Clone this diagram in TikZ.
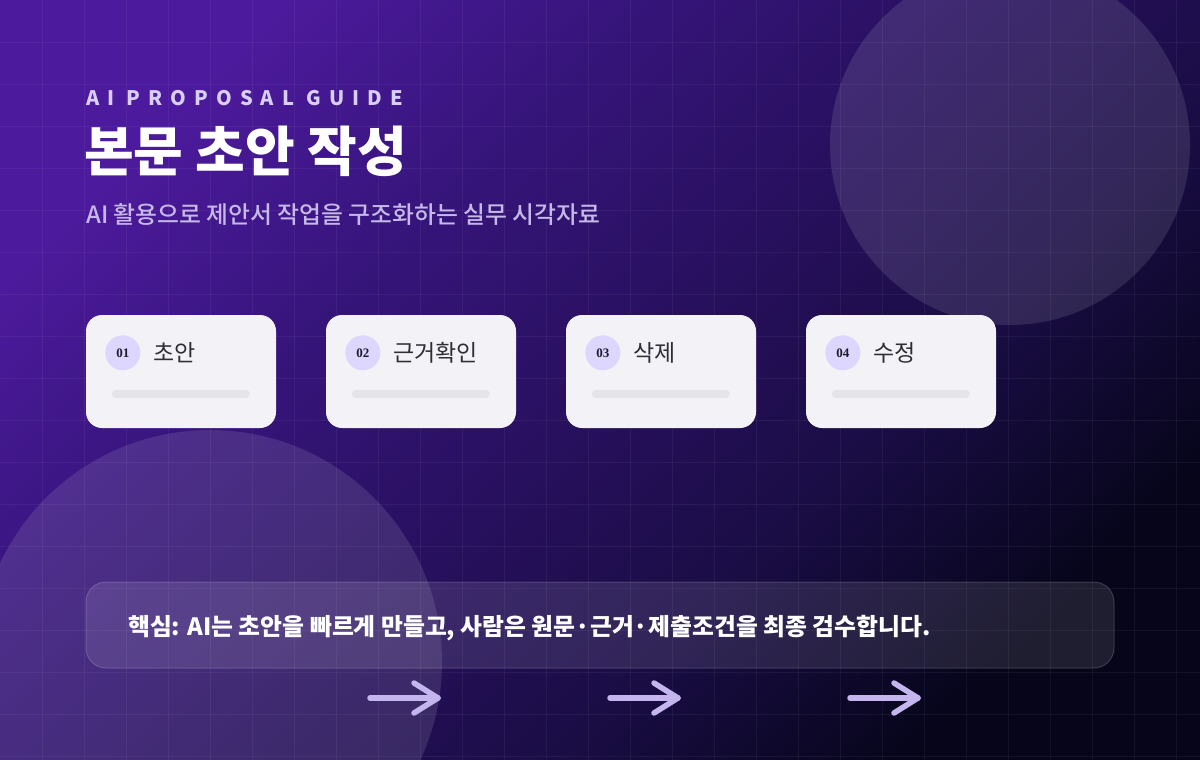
\documentclass[tikz,border=0pt]{standalone}
\usepackage{fontspec}
\usetikzlibrary{calc}
\setmainfont{Noto Sans CJK KR}
\newfontfamily\spacedfont[LetterSpace=40]{Noto Sans CJK KR}
\newfontfamily\medfont[UprightFont=* Medium]{Noto Sans CJK KR}
\newfontfamily\numfont{Liberation Serif}
\definecolor{bgA}{HTML}{4C1A9C}
\definecolor{bgA2}{HTML}{37157C}
\definecolor{bgB}{HTML}{28105F}
\definecolor{bgB2}{HTML}{1A0D45}
\definecolor{bgC}{HTML}{06051A}
\definecolor{cardbg}{HTML}{F3F2F7}
\definecolor{badgebg}{HTML}{DDD6FE}
\definecolor{numtext}{HTML}{1E1B2E}
\definecolor{labeltext}{HTML}{2E2E36}
\definecolor{barcol}{HTML}{E4E4E9}
\definecolor{arrowcol}{HTML}{C4B5EE}
\definecolor{kickercol}{HTML}{D9CEF7}
\definecolor{subcol}{HTML}{C6B8E8}
\pgfdeclareverticalshading{bgshade}{100bp}{color(0bp)=(bgC); color(25bp)=(bgC); color(38bp)=(bgB2); color(50bp)=(bgB); color(63bp)=(bgA2); color(75bp)=(bgA); color(100bp)=(bgA)}
\tikzset{
  card/.style={rounded corners=16pt, fill=cardbg, minimum width=190pt, minimum height=113pt, inner sep=0pt},
  badge/.style={circle, fill=badgebg, minimum size=35pt, inner sep=0pt, text=numtext,
    font=\numfont\bfseries\fontsize{13}{13}\selectfont},
  steplabel/.style={anchor=base west, inner sep=0pt, text=labeltext, font=\fontsize{23}{23}\selectfont},
  barline/.style={draw=barcol, line width=8pt, line cap=round},
  arrowline/.style={draw=arrowcol, line width=5.5pt, line cap=round, line join=round},
  gridline/.style={draw=white, draw opacity=0.05, line width=0.8pt},
  deco/.style={fill=white, fill opacity=0.11},
  notebox/.style={rounded corners=20pt, fill=white, fill opacity=0.10, draw=white, draw opacity=0.16, line width=1pt,
    minimum width=1028pt, minimum height=86pt, inner sep=0pt},
}
\begin{document}
\begin{tikzpicture}[x=1pt,y=-1pt]
\useasboundingbox (0,0) rectangle (1200,760);
\shade[shading=bgshade, shading angle=45] (0,0) rectangle (1200,760);
\foreach \gx in {42,84,...,1176} \draw[gridline] (\gx,0) -- (\gx,760);
\foreach \gy in {42,84,...,756} \draw[gridline] (0,\gy) -- (1200,\gy);
\fill[deco] (1010,145) circle (180pt);
\fill[deco] (210,662) circle (232pt);

\node[anchor=base west, inner sep=0pt, text=kickercol, font=\spacedfont\bfseries\fontsize{20}{20}\selectfont] (kicker) at (86,105) {AI PROPOSAL GUIDE};
\node[anchor=base west, inner sep=0pt, text=white, font=\bfseries\fontsize{54}{54}\selectfont] (title) at (84,171) {본문 초안 작성};
\node[anchor=base west, inner sep=0pt, text=subcol, font=\medfont\fontsize{23.8}{23.8}\selectfont] (subtitle) at (86,223) {AI 활용으로 제안서 작업을 구조화하는 실무 시각자료};

\foreach \i/\cx/\lab in {1/181/초안, 2/421/근거확인, 3/661/삭제, 4/901/수정} {
  \node[card] (c\i) at (\cx,371.5) {};
  \node[badge] (b\i) at ($(c\i.north west)+(37,38)$) {0\i};
  \node[steplabel] (l\i) at ($(c\i.north west)+(67,47)$) {\lab};
  \coordinate (bs\i) at ($(c\i.north west)+(30,79)$);
  \coordinate (be\i) at ($(c\i.north west)+(160,79)$);
  \draw[barline] (bs\i) -- (be\i);
}

\node[notebox] (note) at (600,625) {};
\node[anchor=base west, inner sep=0pt, text=white, font=\bfseries\fontsize{23.8}{23.8}\selectfont] (notetext) at (128,635) {핵심: AI는 초안을 빠르게 만들고, 사람은 원문·근거·제출조건을 최종 검수합니다.};

\foreach \i/\sx in {1/370, 2/610, 3/850} {
  \coordinate (as\i) at (\sx,698);
  \coordinate (ae\i) at (\sx+68,698);
  \coordinate (au\i) at (\sx+44,683);
  \coordinate (ad\i) at (\sx+44,713);
  \draw[arrowline] (as\i) -- (ae\i);
  \draw[arrowline] (au\i) -- (ae\i) -- (ad\i);
}
\end{tikzpicture}
\end{document}
